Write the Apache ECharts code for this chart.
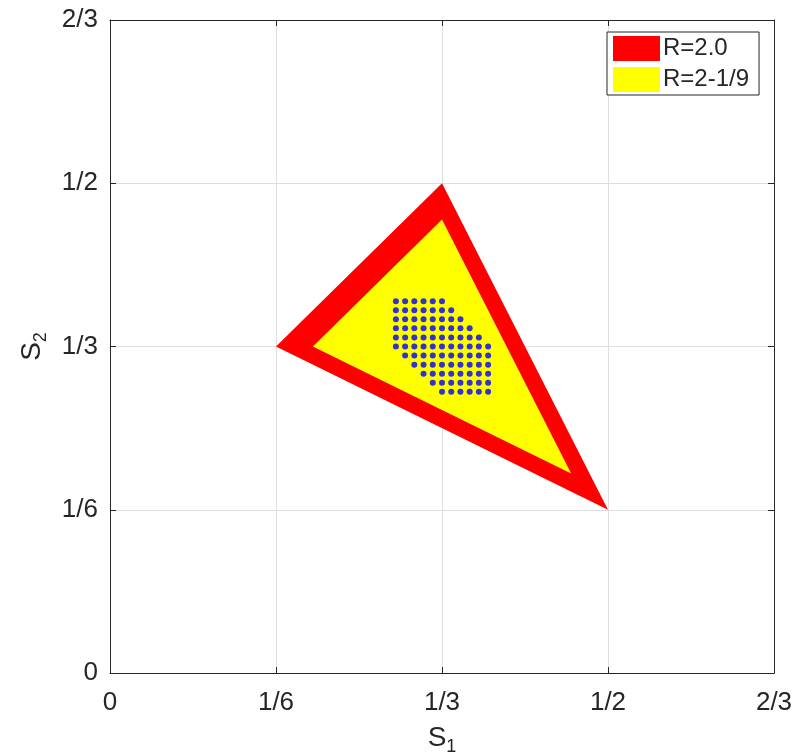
<!DOCTYPE html>
<html>
<head>
<meta charset="utf-8">
<script src="https://cdn.jsdelivr.net/npm/echarts@6/dist/echarts.min.js"></script>
<style>
  html, body { margin: 0; padding: 0; background: #fff; }
  #container { width: 797px; height: 756px; }
</style>
</head>
<body>
<div id="container"></div>
<script>
// tick labels shared by both axes (steps of 1/6)
var tickLabels = ['0', '1/6', '1/3', '1/2', '2/3'];

// outer triangle, R=2.0
var redX = [1/6, 1/3, 1/2];
var redY = [1/3, 1/2, 1/6];

// inner triangle, R=2-1/9
var yellowX = [0.2037, 1/3, 0.4630];
var yellowY = [1/3, 0.4630, 0.2037];

// blue grid points, spacing 1/108 around (1/3, 1/3)
var dotStep = 1 / 108;
var dotCenter = [1/3, 1/3];
var dotRows = [5, 4, 3, 2, 1, 0, -1, -2, -3, -4, -5];
var dotCols = [
  [-5, -4, -3, -2, -1, 0],
  [-5, -4, -3, -2, -1, 0, 1],
  [-5, -4, -3, -2, -1, 0, 1, 2],
  [-5, -4, -3, -2, -1, 0, 1, 2, 3],
  [-5, -4, -3, -2, -1, 0, 1, 2, 3, 4],
  [-5, -4, -3, -2, -1, 0, 1, 2, 3, 4, 5],
  [-4, -3, -2, -1, 0, 1, 2, 3, 4, 5],
  [-3, -2, -1, 0, 1, 2, 3, 4, 5],
  [-2, -1, 0, 1, 2, 3, 4, 5],
  [-1, 0, 1, 2, 3, 4, 5],
  [0, 1, 2, 3, 4, 5]
];

var dom = document.getElementById('container');
var myChart = echarts.init(dom);

var dots = [];
for (var r = 0; r < dotRows.length; r++) {
  for (var c = 0; c < dotCols[r].length; c++) {
    dots.push([dotCenter[0] + dotCols[r][c] * dotStep, dotCenter[1] + dotRows[r] * dotStep]);
  }
}

function toPairs(xs, ys) {
  return xs.map(function (x, i) { return [x, ys[i]]; });
}

function polygonRenderer(color) {
  return function (params, api) {
    if (params.dataIndex !== 0) return null;
    var pts = [];
    for (var i = 0; i < params.dataInsideLength; i++) {
      pts.push(api.coord([api.value(0, i), api.value(1, i)]));
    }
    return {
      type: 'polygon',
      shape: { points: pts },
      style: { fill: color }
    };
  };
}

function fracLabel(v) {
  return tickLabels[Math.round(v * 6)];
}

var font = '"Liberation Sans", Arial, Helvetica, sans-serif';
var axisColor = '#262626';

function axis(extra, labelMargin) {
  return Object.assign({
    type: 'value',
    min: 0,
    max: 2/3,
    interval: 1/6,
    axisLine: { show: true, onZero: false, lineStyle: { color: axisColor, width: 1 } },
    axisTick: { show: true, inside: true, length: 6, lineStyle: { color: axisColor } },
    splitLine: { show: true, lineStyle: { color: '#dedede', width: 1 } },
    axisLabel: {
      fontFamily: font, fontSize: 26, color: axisColor, margin: labelMargin,
      formatter: fracLabel
    }
  }, extra);
}

var mirror = {
  axisLabel: { show: false },
  splitLine: { show: false }
};

var nameStyle = {
  fontFamily: font, fontSize: 28, color: axisColor,
  rich: { sub: { fontFamily: font, fontSize: 18, color: axisColor, padding: [18, 0, 0, 0] } }
};

option = {
  backgroundColor: '#fff',
  animation: false,
  grid: { left: 110, right: 23, top: 20, bottom: 83, outerBoundsMode: 'none' },
  legend: {
    orient: 'vertical',
    left: 607,
    top: 32,
    padding: [4, 10, 3, 6],
    itemGap: 6,
    itemWidth: 47,
    itemHeight: 25,
    borderColor: axisColor,
    borderWidth: 1,
    backgroundColor: '#fff',
    textStyle: { fontFamily: font, fontSize: 24, color: axisColor, padding: [0, 0, 0, -2] },
    data: [
      { name: 'R=2.0', icon: 'rect' },
      { name: 'R=2-1/9', icon: 'rect' }
    ]
  },
  xAxis: [
    axis({
      position: 'bottom',
      name: 'S{sub|1}',
      nameLocation: 'middle',
      nameGap: 47,
      nameTextStyle: nameStyle
    }, 17),
    axis(Object.assign({ position: 'top' }, mirror), 17)
  ],
  yAxis: [
    axis({
      position: 'left',
      name: 'S{sub|2}',
      nameLocation: 'middle',
      nameGap: 60,
      nameRotate: 90,
      nameTextStyle: nameStyle
    }, 12),
    axis(Object.assign({ position: 'right' }, mirror), 12)
  ],
  series: [
    {
      name: 'R=2.0',
      type: 'custom',
      itemStyle: { color: '#ff0000' },
      renderItem: polygonRenderer('#ff0000'),
      data: toPairs(redX, redY),
      z: 2
    },
    {
      name: 'R=2-1/9',
      type: 'custom',
      itemStyle: { color: '#ffff00' },
      renderItem: polygonRenderer('#ffff00'),
      data: toPairs(yellowX, yellowY),
      z: 3
    },
    {
      name: 'grid points',
      type: 'scatter',
      symbol: 'circle',
      symbolSize: 6,
      itemStyle: { color: '#0000ff' },
      data: dots,
      z: 4
    }
  ]
};

if (option && typeof option === 'object') {
  myChart.setOption(option, true);
}
</script>
</body>
</html>
